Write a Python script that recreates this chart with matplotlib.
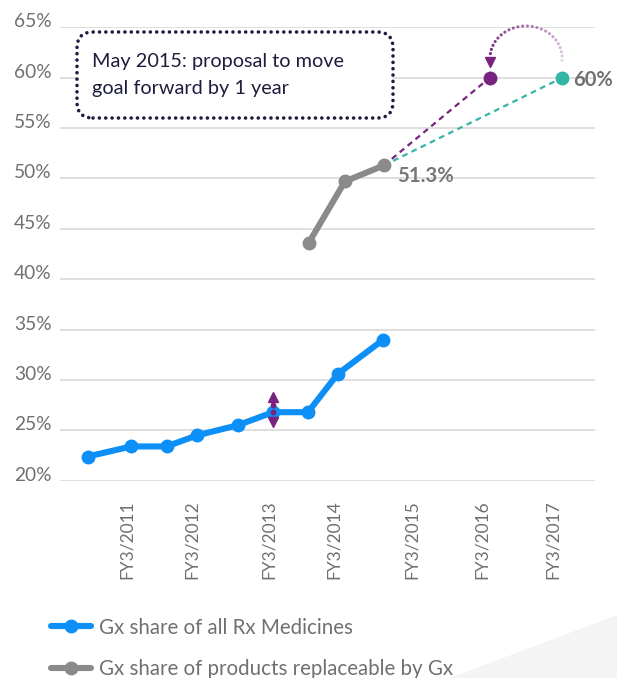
import numpy as np
import matplotlib
matplotlib.use("Agg")
import matplotlib.pyplot as plt
from matplotlib.lines import Line2D
from matplotlib.patches import FancyBboxPatch, Polygon

plt.rcParams['font.family'] = ['Lato', 'DejaVu Sans']

# time axis in fractional years (March = fiscal year end)
rx_t = [2010.45, 2011.06, 2011.56, 2011.99, 2012.56, 2013.06, 2013.55, 2013.97, 2014.61]
rx_share = [22.4, 23.4, 23.4, 24.5, 25.5, 26.8, 26.8, 30.6, 34.0]

repl_t = [2013.56, 2014.07, 2014.62]
repl_share = [43.6, 49.7, 51.3]

goal = 60
goal_new_t = 2016.11   # proposal: reach the goal one year earlier
goal_old_t = 2017.13

tick_t = [2011.0, 2011.92, 2013.0, 2013.92, 2015.01, 2016.0, 2017.0]
tick_lbl = ['FY3/2011', 'FY3/2012', 'FY3/2013', 'FY3/2014', 'FY3/2015', 'FY3/2016', 'FY3/2017']
y_ticks = [20, 25, 30, 35, 40, 45, 50, 55, 60, 65]

note_lines = ['May 2015: proposal to move', 'goal forward by 1 year']
legend_lbl = ['Gx share of all Rx Medicines', 'Gx share of products replaceable by Gx']

BLUE = '#0c8ff6'
GRAY = '#8a8a8a'
PURPLE = '#77237f'
TEAL = '#35b5a6'
TXT = '#707070'
NAVY = '#1d1d3f'

fig = plt.figure(figsize=(6.17, 6.78), dpi=100)
W, H = 617, 678
ax = fig.add_axes([60 / W, 1 - 480.7 / H, 535 / W, 453.4 / H])

# faint corner decoration
fig.patches.append(Polygon([(1, 1 - 615 / H), (1, 0), (450 / W, 0)], closed=True,
                           transform=fig.transFigure, facecolor='#f4f4f4',
                           edgecolor='none', zorder=0))

ax.set_xlim(2010.06, 2017.59)
ax.set_ylim(20, 65)
for s in ax.spines.values():
    s.set_visible(False)
ax.set_yticks(y_ticks)
ax.set_yticklabels([f'{v}%' for v in y_ticks])
ax.set_xticks(tick_t)
ax.set_xticklabels(tick_lbl, rotation=90, va='top', ha='center')
ax.tick_params(axis='y', length=0, pad=6, labelsize=13.8, labelcolor=TXT)
ax.tick_params(axis='x', length=0, pad=14, labelsize=12.5, labelcolor=TXT)
for lab in ax.get_yticklabels():
    lab.set_verticalalignment('baseline')
ax.grid(axis='y', color='#dcdcdc', lw=1.3)
ax.set_axisbelow(True)

# projections to the 60% goal
ax.plot([repl_t[-1], goal_new_t], [repl_share[-1], goal], color=PURPLE, lw=1.6,
        dashes=(2.6, 2.0), zorder=2)
ax.plot([repl_t[-1], goal_old_t], [repl_share[-1], goal], color=TEAL, lw=1.6,
        dashes=(2.6, 2.0), zorder=2)

ax.plot(rx_t, rx_share, color=BLUE, lw=4.4, marker='o', ms=9, zorder=3,
        solid_capstyle='round')
ax.plot(repl_t, repl_share, color=GRAY, lw=4.4, marker='o', ms=9, zorder=3,
        solid_capstyle='round')
ax.plot([goal_new_t], [goal], 'o', color=PURPLE, ms=9, zorder=4)
ax.plot([goal_old_t], [goal], 'o', color=TEAL, ms=9, zorder=4)

ax.annotate(f'{repl_share[-1]}%', (repl_t[-1], repl_share[-1]), xytext=(13, -11),
            textcoords='offset pixels', ha='left', va='center', fontsize=14.6,
            fontweight='bold', color='#777777')
ax.annotate(f'{goal}%', (goal_old_t, goal), xytext=(11, -2),
            textcoords='offset pixels', ha='left', va='center', fontsize=14.5,
            fontweight='bold', color=TXT)

# dotted arc: goal moved forward one year
cx, cy, rx, ry = 2016.62, 61.95, 0.507, 3.18
ang = np.radians(np.linspace(-4, 172, 24))
alphas = np.linspace(0.2, 1.0, len(ang))
cols = [matplotlib.colors.to_rgba(PURPLE, a) for a in alphas]
ax.scatter(cx + rx * np.cos(ang), cy + ry * np.sin(ang), s=5, c=cols,
           linewidths=0, zorder=4, clip_on=False)
ax.plot([goal_new_t], [61.6], marker='v', color=PURPLE, ms=7.5, zorder=4)

# up/down marker on FY3/2013
mx = rx_t[5]
ax.plot([mx], [28.35], marker='^', color=PURPLE, ms=7.5, zorder=5)
ax.plot([mx], [25.85], marker='v', color=PURPLE, ms=7.5, zorder=5)
ax.plot([mx, mx], [27.55, rx_share[5]], 'o', color=PURPLE, ms=3.2, zorder=5)

# note box
box = FancyBboxPatch((0.77, (H - 118) / 100), 3.16, 0.86,
                     boxstyle='round,pad=0,rounding_size=0.16',
                     transform=fig.dpi_scale_trans, facecolor='white',
                     edgecolor=NAVY, lw=2.6, linestyle=(0, (0.01, 1.75)),
                     capstyle='round', zorder=5)
fig.patches.append(box)
for line, base in zip(note_lines, [67, 94]):
    fig.text(0.92, (H - base) / 100, line, transform=fig.dpi_scale_trans,
             ha='left', va='baseline', fontsize=14.3, color=NAVY, zorder=6)

handles = [Line2D([], [], color=BLUE, lw=4.4, marker='o', ms=9, solid_capstyle='round'),
           Line2D([], [], color=GRAY, lw=4.4, marker='o', ms=9, solid_capstyle='round')]
fig.legend(handles, legend_lbl,
           loc='upper left', bbox_to_anchor=(51 / W, 1 - 617.5 / H), frameon=False,
           fontsize=14.8, labelcolor=TXT, handlelength=1.95, handletextpad=0.4,
           labelspacing=1.07, borderpad=0, borderaxespad=0)

fig.savefig('out.png', dpi=100)
